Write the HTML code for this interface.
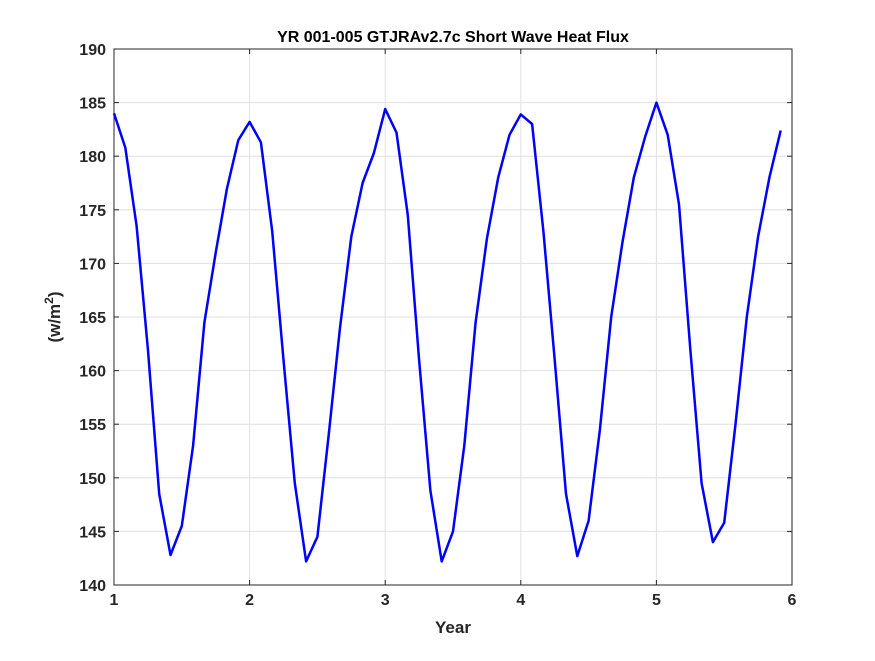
<!DOCTYPE html>
<html><head><meta charset="utf-8"><style>
body{margin:0;background:#fff;width:875px;height:656px;overflow:hidden;font-family:"Liberation Sans",sans-serif}
</style></head><body>
<svg id="chart" width="875" height="656" xmlns="http://www.w3.org/2000/svg"></svg>
<script>
const years=[1,2,3,4,5];
const flux=[184,180.8,173.5,162,148.5,142.8,145.5,153,164.5,171,177,181.5,
183.2,181.3,173,161,149.5,142.2,144.5,154,164,172.5,177.5,180.3,
184.4,182.2,174.5,161,148.8,142.2,145,153,164.5,172.3,178,182,
183.9,183,173,161,148.5,142.7,146,154.5,165,172,178,181.8,
185,182,175.5,162,149.5,144,145.8,155,165,172.5,178,182.4];
const xTicks=[1,2,3,4,5,6];
const yTicks=[140,145,150,155,160,165,170,175,180,185,190];
const L=114,R=792,T=49,B=585;
const sx=v=>L+(v-1)/5*(R-L), sy=v=>B-(v-140)/50*(B-T);
const svg=document.getElementById('chart');const NS='http://www.w3.org/2000/svg';
function mk(t,a,txt){const e=document.createElementNS(NS,t);for(const k in a)e.setAttribute(k,a[k]);if(txt!=null)e.textContent=txt;svg.appendChild(e);return e;}
let e=mk('rect',{x:L,y:T,width:R-L,height:B-T,fill:'#fff'});


xTicks.forEach(v=>{const x=sx(v);
e=mk('line',{x1:x,x2:x,y1:T,y2:B,stroke:'#e0e0e0'});


mk('line',{x1:x,x2:x,y1:B,y2:B-5,stroke:'#262626'});mk('line',{x1:x,x2:x,y1:T,y2:T+5,stroke:'#262626'});
e=mk('text',{x:x,y:B+20,'text-anchor':'middle','font-size':16,'font-weight':'bold',fill:'#262626'},v);

});
yTicks.forEach(v=>{const y=sy(v);
e=mk('line',{x1:L,x2:R,y1:y,y2:y,stroke:'#e0e0e0'});


mk('line',{x1:L,x2:L+5,y1:y,y2:y,stroke:'#262626'});mk('line',{x1:R,x2:R-5,y1:y,y2:y,stroke:'#262626'});
e=mk('text',{x:L-8,y:y+6,'text-anchor':'end','font-size':16,'font-weight':'bold',fill:'#262626'},v);

});
e=mk('rect',{x:L,y:T,width:R-L,height:B-T,fill:'none',stroke:'#262626'});


const pts=flux.map((v,i)=>sx(1+i/12).toFixed(1)+','+sy(v).toFixed(1)).join(' ');
e=mk('polyline',{points:pts,fill:'none',stroke:'#0000ff','stroke-width':2.5,'stroke-linejoin':'round'});


e=mk('text',{x:453,y:42,'text-anchor':'middle','font-size':16,'font-weight':'bold',fill:'#000'},'YR 001-005 GTJRAv2.7c Short Wave Heat Flux');


e=mk('text',{x:453,y:633,'text-anchor':'middle','font-size':17,'font-weight':'bold',fill:'#262626'},'Year');


e=mk('text',{x:0,y:0,transform:'translate(60,317) rotate(-90)','text-anchor':'middle','font-size':17,'font-weight':'bold',fill:'#262626'});


e.innerHTML='(w/m<tspan dy="-7" font-size="12">2</tspan><tspan dy="7">)</tspan>';
</script>
</body></html>
